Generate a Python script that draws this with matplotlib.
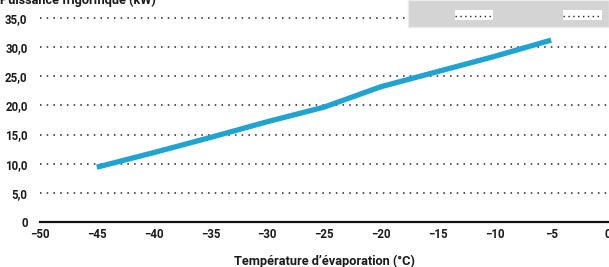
import matplotlib
matplotlib.use("Agg")
import matplotlib.pyplot as plt
from matplotlib.patches import Rectangle
from matplotlib.lines import Line2D

# Data ---------------------------------------------------
evap_temp = [-45, -40, -35, -30, -25, -20, -15, -10, -5]
capacity_kw = [9.4, 11.9, 14.5, 17.2, 19.7, 23.2, 25.8, 28.4, 31.2]

x_ticks = [-50, -45, -40, -35, -30, -25, -20, -15, -10, -5, 0]
y_ticks = [0, 5, 10, 15, 20, 25, 30, 35]
y_tick_labels = ["0", "5,0", "10,0", "15,0", "20,0", "25,0", "30,0", "35,0"]

plt.rcParams["font.family"] = ["Roboto", "DejaVu Sans"]

fig = plt.figure(figsize=(6.09, 2.67), dpi=100)
ax = fig.add_axes([40 / 609, 1 - 222 / 267, 568 / 609, 222 / 267])
ax.set_xlim(-50, 0)
ax.set_ylim(0, 222 / 5.83)

# Dotted grid lines
for y in y_ticks[1:]:
    ax.axhline(y, color="#222222", linestyle=(0, (1, 3.4)), linewidth=1.1, zorder=1)

ax.plot(evap_temp, capacity_kw, color="#1fa3d0", linewidth=3.8,
        solid_capstyle="butt", zorder=3)

for s in ["top", "right", "left"]:
    ax.spines[s].set_visible(False)
ax.spines["bottom"].set_linewidth(1.6)
ax.spines["bottom"].set_color("#111111")

ax.set_xticks(x_ticks)
ax.set_xticklabels([str(v).replace("-", "\u2212") for v in x_ticks])
ax.set_yticks(y_ticks)
ax.set_yticklabels(y_tick_labels)
ax.tick_params(length=0, labelsize=8.3, colors="#1a1a1a", pad=4)
ax.tick_params(axis="y", pad=9)
for lbl in ax.get_xticklabels() + ax.get_yticklabels():
    lbl.set_fontweight("bold")

ax.set_xlabel("Température d\u2019évaporation (°C)", fontsize=9.2,
              fontweight="bold", color="#1a1a1a", labelpad=10)

# y label partly cut off at the top of the picture
fig.text(0.0, 1.0, "Puissance frigorifique (kW)", fontsize=9.2, fontweight="bold",
         color="#1a1a1a", ha="left", va="center")

# Remnant of the legend box in the top right corner
fig.patches.append(Rectangle((408 / 609, 1 - 27 / 267), 201 / 609, 27 / 267,
                             transform=fig.transFigure, facecolor="#d4d4d4",
                             edgecolor="#ebebeb", linewidth=1.0, zorder=5))
for x0, w in [(455, 38), (563, 39)]:
    fig.patches.append(Rectangle((x0 / 609, 1 - 20 / 267), w / 609, 10 / 267,
                                 transform=fig.transFigure, facecolor="white",
                                 edgecolor="none", zorder=6))
    fig.lines.append(Line2D([x0 / 609, (x0 + w) / 609], [1 - 16 / 267, 1 - 16 / 267],
                            transform=fig.transFigure, color="#222222",
                            linestyle=(0, (1, 2.5)), linewidth=1.0, zorder=7))

fig.savefig("out.png", dpi=100)
